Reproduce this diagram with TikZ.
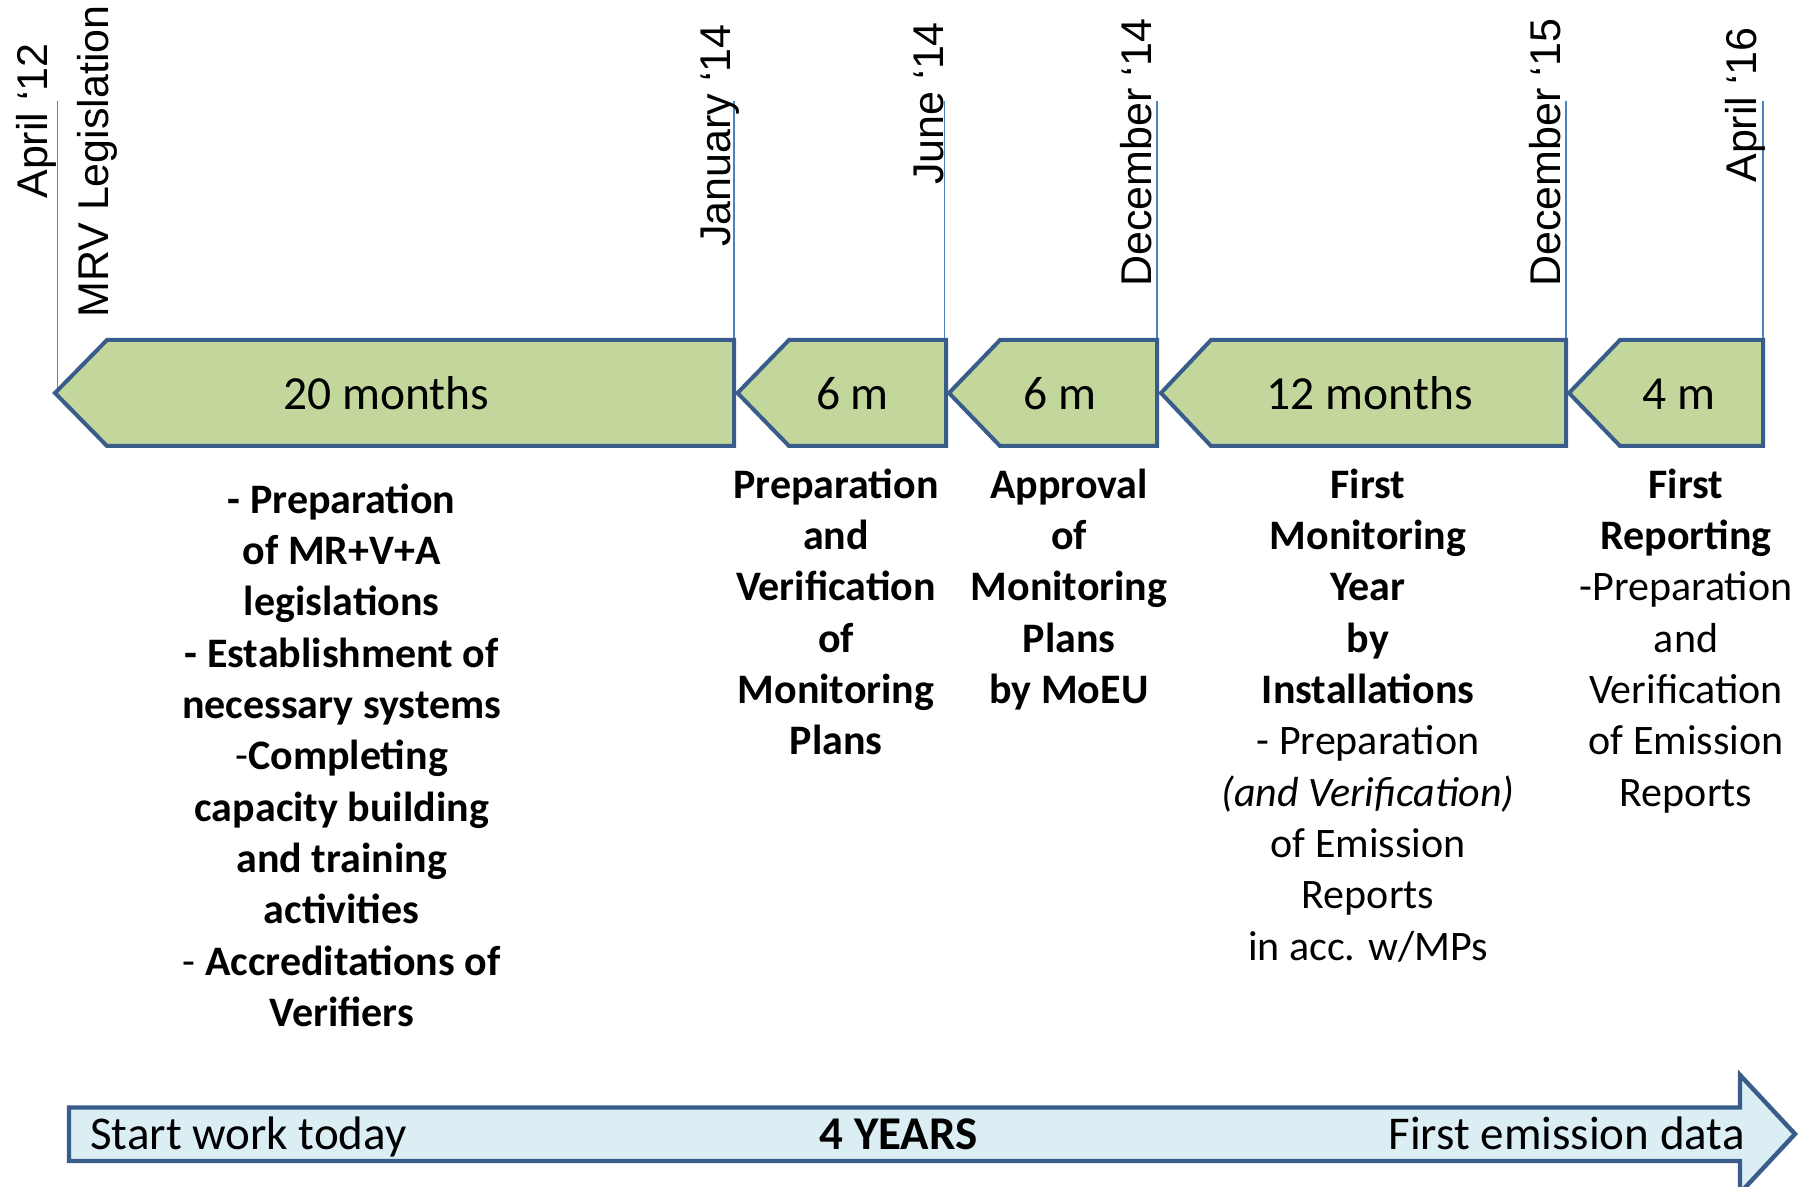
\documentclass[tikz,border=0pt]{standalone}
\usepackage{fontspec}
\setmainfont{Carlito}
\newfontfamily\datefont{Liberation Sans}
\definecolor{arrowgreen}{HTML}{C3D69B}
\definecolor{edgeblue}{HTML}{385D8A}
\definecolor{tickblue}{HTML}{4F81BD}
\definecolor{paleblue}{HTML}{DBEEF4}
\begin{document}
\begin{tikzpicture}[x=0.5pt,y=-0.5pt,
  datelabel/.style={rotate=90, anchor=base west, inner sep=0pt, font=\datefont\fontsize{21.5pt}{25pt}\selectfont},
  tickline/.style={draw=tickblue, line width=0.75pt},
  phase/.style={draw=edgeblue, fill=arrowgreen, line width=2pt, line join=miter},
  headlabel/.style={anchor=base, inner sep=0pt, font=\fontsize{23.75pt}{28pt}\selectfont},
  desc/.style={anchor=north, inner sep=0pt, align=center, font=\fontsize{21pt}{25.65pt}\selectfont\bfseries},
  barlabel/.style={inner sep=0pt, font=\fontsize{23.5pt}{28pt}\selectfont}]
\clip (0,0) rectangle (1804,1187);
\useasboundingbox (0,0) rectangle (1804,1187);

% tick coordinates
\coordinate (t0top) at (57.5,101); \coordinate (t0bot) at (57.5,393);
\coordinate (t1top) at (734,101);  \coordinate (t1bot) at (734,393);
\coordinate (t2top) at (944.5,101);\coordinate (t2bot) at (944.5,393);
\coordinate (t3top) at (1157,101); \coordinate (t3bot) at (1157,393);
\coordinate (t4top) at (1566,101); \coordinate (t4bot) at (1566,393);
\coordinate (t5top) at (1763,101); \coordinate (t5bot) at (1763,393);
\foreach \i in {0,...,5} \draw[tickline] (t\i top) -- (t\i bot);

% date labels
\node[datelabel] (d0) at (47,199) {April ‘12};
\node[datelabel] (d0b) at (108,318) {MRV Legislation};
\node[datelabel] (d1) at (730,247) {January ‘14};
\node[datelabel] (d2) at (943,185) {June ‘14};
\node[datelabel] (d3) at (1151,287) {December ‘14};
\node[datelabel] (d4) at (1560,287) {December ‘15};
\node[datelabel] (d5) at (1756,183) {April ‘16};

% phase arrows
\draw[phase] (734,340) -- (107,340) -- (55,393) -- (107,446) -- (734,446) -- cycle;
\draw[phase] (946,340) -- (789,340) -- (737.5,393) -- (789,446) -- (946,446) -- cycle;
\draw[phase] (1157,340) -- (1000,340) -- (949,393) -- (1000,446) -- (1157,446) -- cycle;
\draw[phase] (1566,340) -- (1211,340) -- (1161,393) -- (1211,446) -- (1566,446) -- cycle;
\draw[phase] (1763,340) -- (1620,340) -- (1569,393) -- (1620,446) -- (1763,446) -- cycle;

\node[headlabel] (h1) at (386.5,410) {20 months};
\node[headlabel] (h2) at (852.5,410) {6 m};
\node[headlabel] (h3) at (1059.6,410) {6 m};
\node[headlabel] (h4) at (1369.7,410) {12 months};
\node[headlabel] (h5) at (1678.6,410) {4 m};

% descriptions
\node[desc] (b1) at (341.7,477) {\strut- Preparation\\ of MR+V+A\\ legislations\\ - Establishment of\\ necessary systems\\ {\mdseries-}Completing\\ capacity building\\ and training\\ activities\\ {\mdseries-} Accreditations of\\ Verifiers};
\node[desc] (b2) at (836,462) {\strut Preparation\\ and\\ Verification\\ of\\ Monitoring\\ Plans};
\node[desc] (b3) at (1069,462) {\strut Approval\\ of\\ Monitoring\\ Plans\\ by MoEU};
\node[desc] (b4) at (1368,462) {\strut First\\ Monitoring\\ Year\\ by\\ Installations\\ {\mdseries - Preparation}\\ {\mdseries\itshape (and Verification)}\\ {\mdseries of Emission}\\ {\mdseries Reports}\\ {\mdseries in acc. w/MPs}};
\node[desc] (b5) at (1686,462) {\strut First\\ Reporting\\ {\mdseries -Preparation}\\ {\mdseries and}\\ {\mdseries Verification}\\ {\mdseries of Emission}\\ {\mdseries Reports}};

% bottom arrow
\draw[draw=edgeblue, fill=paleblue, line width=2.2pt, line join=miter]
  (69,1107.5) -- (1740,1107.5) -- (1740,1075) -- (1795,1134) -- (1740,1193) -- (1740,1161) -- (69,1161) -- cycle;
\node[barlabel, anchor=base west] (s1) at (90,1149) {Start work today};
\node[barlabel, anchor=base, font=\fontsize{23.5pt}{28pt}\selectfont\bfseries] (s2) at (898.6,1149) {4 YEARS};
\node[barlabel, anchor=base east] (s3) at (1745,1149) {First emission data};
\end{tikzpicture}
\end{document}
